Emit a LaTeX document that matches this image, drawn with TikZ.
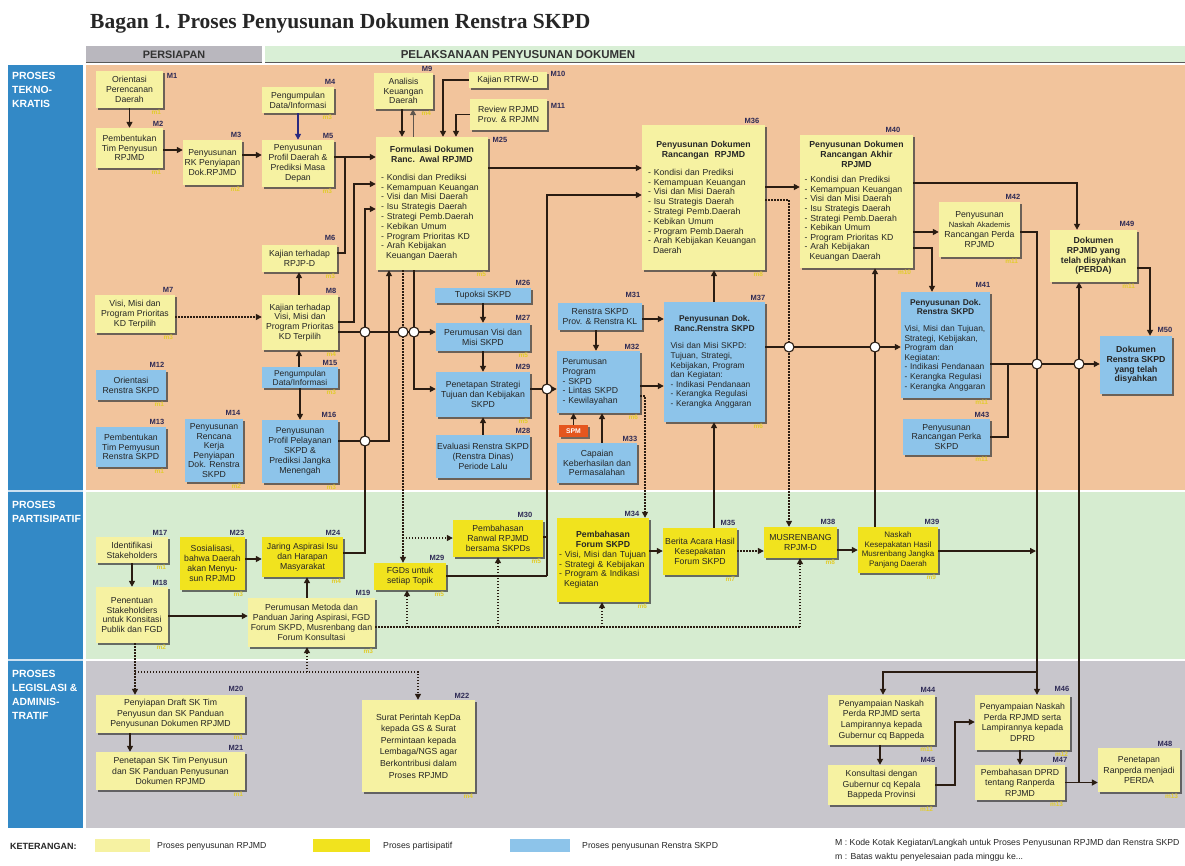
\documentclass[tikz,border=0pt]{standalone}
\usepackage{fontspec}
\setmainfont{Liberation Sans}
\newfontfamily\titlefont{Liberation Serif}
\usetikzlibrary{arrows.meta,fit,shadows}
\definecolor{peach}{HTML}{F2C49C}
\definecolor{pgreen}{HTML}{D6ECD0}
\definecolor{pgray}{HTML}{C8C6CC}
\definecolor{colblue}{HTML}{3389C6}
\definecolor{ypale}{HTML}{F6F2A2}
\definecolor{ybright}{HTML}{F1E31E}
\definecolor{bblue}{HTML}{8DC4EA}
\definecolor{lc}{HTML}{2A1C12}
\definecolor{hgray}{HTML}{B9B7BE}
\definecolor{hgreen}{HTML}{D9EFD6}
\definecolor{mnavy}{HTML}{2E2A55}
\definecolor{mtime}{HTML}{E2CC2C}
\definecolor{spmred}{HTML}{E5561E}
\definecolor{navyarr}{HTML}{2A2A80}
% box: style, name, corner1, corner2, text options, text
\newcommand\bx[6]{%
  \node[#1, fit={(#3) (#4)}] (#2) {};
  \node[btx, #5] (#2t) at (#2.center) {#6};}
\newcommand\tmlab[2]{\node[mtl, anchor=north east, xshift=-2pt, yshift=-1.5pt] (t#1) at (#1.south east) {#2};}
\begin{document}
\begin{tikzpicture}[x=1pt,y=-1pt,
  bxs/.style={rectangle, inner sep=0pt,
    drop shadow={shadow xshift=2.2pt, shadow yshift=-2.2pt, fill=black!75, opacity=0.75}},
  rpj/.style={bxs, fill=ypale},
  ptp/.style={bxs, fill=ybright},
  ren/.style={bxs, fill=bblue},
  btx/.style={inner sep=0pt, align=center, text=black!85, font=\fontsize{8.7}{9.8}\selectfont},
  bft/.style={font=\fontsize{8.7}{9.8}\selectfont\bfseries},
  lgf/.style={font=\fontsize{8.7}{10.6}\selectfont},
  mlab/.style={font=\fontsize{7.5}{7.5}\selectfont\bfseries, text=mnavy, inner sep=0pt},
  mtl/.style={font=\fontsize{6.5}{6.5}\selectfont\bfseries, text=mtime, inner sep=0pt},
  side/.style={font=\fontsize{10.4}{14}\selectfont\bfseries, text=white, align=left, inner sep=0pt, anchor=north west},
  ln/.style={draw=lc, line width=1.6pt},
  arr/.style={ln, -{Triangle[length=6pt,width=6pt]}},
  dt/.style={draw=lc, line width=1.3pt, dash pattern=on 1.4pt off 1.6pt},
  darr/.style={dt, -{Triangle[length=6pt,width=6pt]}},
  hop/.style={circle, draw=lc, fill=white, line width=1.1pt, minimum size=10pt, inner sep=0pt},
  lgt/.style={font=\fontsize{8.7}{8.7}\selectfont, anchor=west, inner sep=0pt, text=black!85}
]
\useasboundingbox (0,0) rectangle (1185,865);
\fill[white] (0,0) rectangle (1185,865);

% title
\node[anchor=base west, font=\titlefont\bfseries\fontsize{21.5}{21.5}\selectfont, text=black!85, inner sep=0pt] (title) at (90,28) {Bagan 1. Proses Penyusunan Dokumen Renstra SKPD};

% header bars
\fill[hgray] (86,46) rectangle (262,62);
\fill[hgreen] (265,46) rectangle (1185,62);
\draw[black!65, line width=1.3pt] (86,62.5) -- (262,62.5);
\draw[black!65, line width=1.3pt] (265,62.5) -- (1185,62.5);
\node[font=\fontsize{10.8}{10.8}\selectfont\bfseries, text=black!80, inner sep=0pt] (hp) at (174,54.5) {PERSIAPAN};
\node[font=\fontsize{11.5}{11.5}\selectfont\bfseries, text=black!80, inner sep=0pt] (hl) at (518,54.5) {PELAKSANAAN PENYUSUNAN DOKUMEN};

% bands
\fill[peach] (86,65) rectangle (1185,490);
\fill[pgreen] (86,492) rectangle (1185,659);
\fill[pgray] (86,661) rectangle (1185,828);
\fill[colblue] (8,65) rectangle (83,828);
\draw[white!75!colblue, line width=1.6pt] (8,491) -- (83,491);
\draw[white!75!colblue, line width=1.6pt] (8,660) -- (83,660);
\node[side] (s1) at (12,72) {PROSES\\TEKNO-\\KRATIS};
\node[side] (s2) at (12,501) {PROSES\\PARTISIPATIF};
\node[side] (s3) at (12,670) {PROSES\\LEGISLASI \&\\ADMINIS-\\TRATIF};

% ---------- Teknokratis boxes ----------
\bx{rpj}{m1}{96,71}{163,108}{}{Orientasi\\Perencanan\\Daerah}
\bx{rpj}{m2}{96,128}{163,168}{}{Pembentukan\\Tim Penyusun\\RPJMD}
\bx{rpj}{m3}{183,140}{242,185}{}{Penyusunan\\RK Penyiapan\\Dok.RPJMD}
\bx{rpj}{m4}{262,87}{334,113}{}{Pengumpulan\\Data/Informasi}
\bx{rpj}{m5}{262,140}{334,187}{}{Penyusunan\\Profil Daerah \&\\Prediksi Masa\\Depan}
\bx{rpj}{m6}{262,245}{337,272}{}{Kajian terhadap\\RPJP-D}
\bx{rpj}{m7}{95,295}{175,333}{}{Visi, Misi dan\\Program Prioritas\\KD Terpilih}
\bx{rpj}{m8}{262,295}{338,350}{}{Kajian terhadap\\Visi, Misi dan\\Program Prioritas\\KD Terpilih}
\bx{rpj}{m9}{374,73}{433,109}{}{Analisis\\Keuangan\\Daerah}
\bx{rpj}{m10}{469,72}{547,88}{}{Kajian RTRW-D}
\bx{rpj}{m11}{470,99}{547,130}{}{Review RPJMD\\Prov. \& RPJMN}
\bx{rpj}{m25}{376,137}{488,270}{text width=102pt, align=left}{{\centering\bfseries Formulasi Dokumen\\Ranc. Awal RPJMD\par}\vspace{8pt}- Kondisi dan Prediksi\\- Kemampuan Keuangan\\- Visi dan Misi Daerah\\- Isu Strategis Daerah\\- Strategi Pemb.Daerah\\- Kebikan Umum\\- Program Prioritas KD\\- Arah Kebijakan\\\hspace*{5pt}Keuangan Daerah}
\bx{rpj}{m36}{642,125}{765,270}{text width=111pt, align=left}{{\centering\bfseries Penyusunan Dokumen\\Rancangan~~RPJMD\par}\vspace{8pt}- Kondisi dan Prediksi\\- Kemampuan Keuangan\\- Visi dan Misi Daerah\\- Isu Strategis Daerah\\- Strategi Pemb.Daerah\\- Kebikan Umum\\- Program Pemb.Daerah\\- Arah Kebijakan Keuangan\\\hspace*{5pt}Daerah}
\bx{rpj}{m40}{800,135}{913,268}{text width=104pt, align=left, font=\fontsize{8.7}{9.6}\selectfont}{{\centering\bfseries Penyusunan Dokumen\\Rancangan Akhir\\RPJMD\par}\vspace{6pt}- Kondisi dan Prediksi\\- Kemampuan Keuangan\\- Visi dan Misi Daerah\\- Isu Strategis Daerah\\- Strategi Pemb.Daerah\\- Kebikan Umum\\- Program Prioritas KD\\- Arah Kebijakan\\\hspace*{5pt}Keuangan Daerah}
\bx{rpj}{m42}{939,202}{1020,257}{}{Penyusunan\\{\fontsize{7.6}{9.8}\selectfont Naskah Akademis}\\Rancangan Perda\\RPJMD}
\bx{rpj}{m49}{1050,230}{1137,282}{bft}{Dokumen\\RPJMD yang\\telah disyahkan\\(PERDA)}

\bx{ren}{m12}{96,370}{166,400}{}{Orientasi\\Renstra SKPD}
\bx{ren}{m13}{96,427}{166,467}{}{Pembentukan\\Tim Pemyusun\\Renstra SKPD}
\bx{ren}{m14}{185,419}{243,482}{font=\fontsize{8.7}{9.6}\selectfont}{Penyusunan\\Rencana\\Kerja\\Penyiapan\\Dok. Renstra\\SKPD}
\bx{ren}{m15}{262,367}{338,388}{font=\fontsize{8.4}{9}\selectfont}{Pengumpulan\\Data/Informasi}
\bx{ren}{m16}{262,420}{338,483}{}{Penyusunan\\Profil Pelayanan\\SKPD \&\\Prediksi Jangka\\Menengah}
\bx{ren}{m26}{435,288}{531,303}{}{Tupoksi SKPD}
\bx{ren}{m27}{436,323}{530,351}{}{Perumusan Visi dan\\Misi SKPD}
\bx{ren}{m29a}{436,372}{530,417}{}{Penetapan Strategi\\Tujuan dan Kebijakan\\SKPD}
\bx{ren}{m28}{436,435}{530,478}{}{Evaluasi Renstra SKPD\\(Renstra Dinas)\\Periode Lalu}
\bx{ren}{m31}{558,303}{642,330}{}{Renstra SKPD\\Prov. \& Renstra KL}
\bx{ren}{m32}{557,351}{640,413}{text width=72pt, align=left}{Perumusan\\Program\\- SKPD\\- Lintas SKPD\\- Kewilayahan}
\node[fill=spmred, fit={(559,425) (588,437)}, inner sep=0pt, drop shadow={shadow xshift=1.5pt, shadow yshift=-1.5pt, fill=black!75, opacity=0.7}] (spm) {};
\node[text=white, font=\fontsize{6.8}{6.8}\selectfont\bfseries, inner sep=0pt] (spmt) at (spm.center) {SPM};
\bx{ren}{m33}{557,443}{637,483}{}{Capaian\\Keberhasilan dan\\Permasalahan}
\bx{ren}{m37}{664,302}{765,422}{text width=88pt, align=left, font=\fontsize{8.4}{9.6}\selectfont}{{\centering\bfseries Penyusunan Dok.\\Ranc.Renstra SKPD\par}\vspace{8pt}Visi dan Misi SKPD:\\Tujuan, Strategi,\\Kebijakan, Program\\dan Kegiatan:\\- Indikasi Pendanaan\\- Kerangka Regulasi\\- Kerangka Anggaran}
\bx{ren}{m41}{901,292}{990,398}{text width=82pt, align=left, font=\fontsize{8.4}{9.6}\selectfont}{{\centering\bfseries Penyusunan Dok.\\Renstra SKPD\par}\vspace{7pt}Visi, Misi dan Tujuan,\\Strategi, Kebijakan,\\Program dan\\Kegiatan:\\- Indikasi Pendanaan\\- Kerangka Regulasi\\- Kerangka Anggaran}
\bx{ren}{m43}{903,419}{990,455}{}{Penyusunan\\Rancangan Perka\\SKPD}
\bx{ren}{m50}{1100,336}{1172,394}{bft}{Dokumen\\Renstra SKPD\\yang telah\\disyahkan}

% ---------- Partisipatif boxes ----------
\bx{rpj}{m17}{96,537}{168,563}{}{Identifikasi\\Stakeholders}
\bx{rpj}{m18}{96,587}{168,643}{}{Penentuan\\Stakeholders\\untuk Konsitasi\\Publik dan FGD}
\bx{ptp}{m23}{180,537}{245,590}{}{Sosialisasi,\\bahwa Daerah\\akan Menyu-\\sun RPJMD}
\bx{ptp}{m24}{262,537}{343,577}{}{Jaring Aspirasi Isu\\dan Harapan\\Masyarakat}
\bx{rpj}{m19}{248,598}{375,647}{}{Perumusan Metoda dan\\Panduan Jaring Aspirasi, FGD\\Forum SKPD, Musrenbang dan\\Forum Konsultasi}
\bx{ptp}{m29b}{374,563}{446,590}{}{FGDs untuk\\setiap Topik}
\bx{ptp}{m30}{453,520}{543,557}{}{Pembahasan\\Ranwal RPJMD\\bersama SKPDs}
\bx{ptp}{m34}{557,518}{649,602}{text width=88pt, align=left}{{\centering\bfseries Pembahasan\\Forum SKPD\par}- Visi, Misi dan Tujuan\\- Strategi \& Kebijakan\\- Program \& Indikasi\\\hspace*{5pt}Kegiatan}
\bx{ptp}{m35}{663,528}{737,575}{}{Berita Acara Hasil\\Kesepakatan\\Forum SKPD}
\bx{ptp}{m38}{764,527}{837,558}{}{MUSRENBANG\\RPJM-D}
\bx{ptp}{m39}{858,527}{938,573}{font=\fontsize{8}{9.4}\selectfont}{Naskah\\Kesepakatan Hasil\\Musrenbang Jangka\\Panjang Daerah}

% ---------- Legislasi boxes ----------
\bx{rpj}{m20}{96,695}{245,733}{lgf}{Penyiapan Draft SK Tim\\Penyusun dan SK Panduan\\Penyusunan Dokumen RPJMD}
\bx{rpj}{m21}{96,752}{245,790}{lgf}{Penetapan SK Tim Penyusun\\dan SK Panduan Penyusunan\\Dokumen RPJMD}
\bx{rpj}{m22}{362,700}{475,792}{font=\fontsize{8.7}{11.6}\selectfont}{Surat Perintah KepDa\\kepada GS \& Surat\\Permintaan kepada\\Lembaga/NGS agar\\Berkontribusi dalam\\Proses RPJMD}
\bx{rpj}{m44}{828,695}{935,745}{lgf}{Penyampaian Naskah\\Perda RPJMD serta\\Lampirannya kepada\\Gubernur cq Bappeda}
\bx{rpj}{m45}{828,765}{935,805}{lgf}{Konsultasi dengan\\Gubernur cq Kepala\\Bappeda Provinsi}
\bx{rpj}{m46}{975,695}{1070,750}{lgf}{Penyampaian Naskah\\Perda RPJMD serta\\Lampirannya kepada\\DPRD}
\bx{rpj}{m47}{975,765}{1065,800}{lgf}{Pembahasan DPRD\\tentang Ranperda\\RPJMD}
\bx{rpj}{m48}{1098,748}{1180,792}{lgf}{Penetapan\\Ranperda menjadi\\PERDA}

% ---------- connectors: teknokratis ----------
\draw[arr] (m1.south) -- (m2.north);
\draw[arr] (m2.east |- 0,150) -- (m3.west |- 0,150);
\draw[arr] (m3.east |- 0,155) -- (m5.west |- 0,155);
\draw[arr, draw=navyarr] (m4.south) -- (m5.north);
\draw[arr] (m5.east |- 0,157) -- (m25.west |- 0,157);
\coordinate (j6) at (345,157);
\draw[ln] (m6.east |- 0,253) -| (j6);
\draw[arr] (m8.north -| 299,0) -- (m6.south -| 299,0);
\draw[darr] (m7.east |- 0,317) -- (m8.west |- 0,317);
\draw[arr] (m8.east |- 0,322) -- (354,322) -- (354,184) -- (m25.west |- 0,184);
\draw[arr] (m8.east |- 0,332) -- (m27.west |- 0,332);
\draw[arr] (m15.north -| 299,0) -- (m8.south -| 299,0);
\draw[arr] (m15.south -| 300,0) -- (m16.north -| 300,0);
\draw[arr] (m16.east |- 0,441) -- (389,441) -- (m25.south -| 389,0);
\draw[arr] (m24.east |- 0,553) -- (365,553) -- (365,209) -- (m25.west |- 0,209);
\draw[arr] (m9.south -| 402,0) -- (m25.north -| 402,0);
\draw[arr, line width=0.9pt, draw=lc!75] (m25.north -| 413,0) -- (m9.south -| 413,0);
\draw[arr] (m10.west) -| (m25.north -| 443,0);
\draw[arr] (m11.west) -| (m25.north -| 456,0);
\draw[arr] (m25.east |- 0,168) -- (m36.west |- 0,168);
\draw[arr] (m25.south -| 414,0) -- (414,389) -- (m29a.west |- 0,389);
\draw[darr] (m25.south -| 403,0) -- (m29b.north -| 403,0);
\draw[darr] (403,538) -- (m30.west |- 0,538);
\draw[arr] (m26.south) -- (m27.north);
\draw[arr] (m27.south) -- (m29a.north);
\draw[arr] (m28.north) -- (m29a.south);
\draw[arr] (m29a.east |- 0,389) -- (m32.west |- 0,389);
\draw[ln] (m30.east |- 0,537) -- (547,537);
\draw[ln] (m29b.east |- 0,576) -- (547,576);
\draw[arr] (547,576) -- (547,195) -- (m36.west |- 0,195);
\draw[arr] (m31.east |- 0,319) -- (m37.west |- 0,319);
\draw[arr] (m31.south -| 596,0) -- (m32.north -| 596,0);
\draw[arr] (m32.east |- 0,386) -- (m37.west |- 0,386);
\draw[darr] (m32.east |- 0,396) -- (645,396) -- (m34.north -| 645,0);
\draw[arr] (spm.north) -- (m32.south -| spm.north);
\draw[arr] (m33.north -| 602,0) -- (m32.south -| 602,0);
\draw[arr] (m37.north -| 714,0) -- (m36.south -| 714,0);
\draw[arr] (m35.north -| 714,0) -- (m37.south -| 714,0);
\draw[arr] (m36.east |- 0,187) -- (m40.west |- 0,187);
\draw[darr] (m36.east |- 0,200) -- (789,200) -- (m38.north -| 789,0);
\draw[arr] (m37.east |- 0,347) -- (m41.west |- 0,347);
\draw[arr] (m39.north -| 875,0) -- (m40.south -| 875,0);
\draw[arr] (m40.east |- 0,183) -- (1077,183) -- (m49.north -| 1077,0);
\draw[arr] (m40.east |- 0,232) -- (m42.west |- 0,232);
\draw[arr] (m40.east |- 0,248) -- (932,248) -- (m41.north -| 932,0);
\draw[arr] (m42.east |- 0,232) -- (1037,232) -- (m46.north -| 1037,0);
\draw[arr] (1037,672) -- (883,672) -- (m44.north -| 883,0);
\coordinate (j39) at (1036,551);
\draw[arr] (m39.east |- 0,551) -- (j39);
\draw[arr] (m41.east |- 0,364) -- (m50.west |- 0,364);
\draw[ln] (m43.east |- 0,437) -- (1008,437) -- (1008,364);
\draw[arr] (m49.east |- 0,268) -- (1150,268) -- (m50.north -| 1150,0);
\draw[arr] (m47.east) -- (m48.west |- m47.east);
\draw[arr] (1079,782) -- (m49.south -| 1079,0);

% ---------- connectors: partisipatif ----------
\draw[arr] (m17.south) -- (m18.north);
\draw[arr] (m18.east |- 0,616) -- (m19.west |- 0,616);
\draw[arr] (m23.east |- 0,559) -- (m24.west |- 0,559);
\draw[arr] (m19.north -| 307,0) -- (m24.south -| 307,0);
\draw[dt] (m19.east |- 0,627) -- (800,627);
\draw[darr] (407,627) -- (m29b.south -| 407,0);
\draw[darr] (498,627) -- (m30.south -| 498,0);
\draw[darr] (602,627) -- (m34.south -| 602,0);
\draw[darr] (800,627) -- (m38.south -| 800,0);
\draw[arr] (m34.east |- 0,551) -- (m35.west |- 0,551);
\draw[darr] (m35.east |- 0,551) -- (m38.west |- 0,551);
\draw[arr] (m38.east |- 0,550) -- (m39.west |- 0,550);

% ---------- connectors: legislasi ----------
\draw[darr] (m18.south -| 135,0) -- (m20.north -| 135,0);
\draw[darr] (135,672) -- (418,672) -- (m22.north -| 418,0);
\draw[darr] (307,672) -- (m19.south -| 307,0);
\draw[arr] (m20.south -| 130,0) -- (m21.north -| 130,0);
\draw[arr] (m44.south -| 880,0) -- (m45.north -| 880,0);
\draw[arr] (m45.east |- 0,785) -- (955,785) -- (955,722) -- (m46.west |- 0,722);
\draw[arr] (m46.south -| 1020,0) -- (m47.north -| 1020,0);

% crossing marks
\node[hop] (h1) at (365,332) {};
\node[hop] (h2) at (403,332) {};
\node[hop] (h3) at (414,332) {};
\node[hop] (h4) at (365,441) {};
\node[hop] (h5) at (547,389) {};
\node[hop] (h6) at (789,347) {};
\node[hop] (h7) at (875,347) {};
\node[hop] (h8) at (1037,364) {};
\node[hop] (h9) at (1079,364) {};

% M labels
\foreach \nm/\px/\py in {M1/172/76, M2/158/124, M3/236/135, M4/330/82, M5/328/136, M6/330/238, M7/168/290, M8/331/291, M9/427/69, M10/558/74, M11/558/106, M25/500/140, M36/752/121, M40/893/130, M42/1013/197, M49/1127/224, M12/157/365, M13/157/422, M14/233/413, M15/330/363, M16/329/415, M26/523/283, M27/523/318, M28/523/431, M31/633/295, M32/632/347, M33/630/439, M37/758/298, M41/983/285, M43/982/415, M50/1165/330, M17/160/533, M18/160/583, M23/237/533, M24/333/533, M19/363/593, M30/525/515, M34/632/514, M35/728/523, M38/828/522, M39/932/522, M20/236/689, M21/236/748, M22/462/696, M44/928/690, M45/928/760, M46/1062/689, M47/1060/760, M48/1165/744}
  \node[mlab] (l\nm) at (\px,\py) {\nm};
\node[mlab] (lM29a) at (523,367) {M29};
\node[mlab] (lM29b) at (437,558) {M29};

% time labels
\tmlab{m1}{m1}\tmlab{m2}{m1}\tmlab{m3}{m2}\tmlab{m4}{m3}\tmlab{m5}{m3}\tmlab{m6}{m3}
\tmlab{m7}{m3}\tmlab{m8}{m4}\tmlab{m9}{m4}\tmlab{m25}{m5}\tmlab{m36}{m8}\tmlab{m40}{m10}
\tmlab{m42}{m11}\tmlab{m49}{m11}\tmlab{m12}{m1}\tmlab{m13}{m1}\tmlab{m14}{m2}\tmlab{m15}{m3}
\tmlab{m16}{m3}\tmlab{m27}{m5}\tmlab{m29a}{m5}\tmlab{m32}{m6}\tmlab{m37}{m6}\tmlab{m41}{m11}
\tmlab{m43}{m11}\tmlab{m17}{m1}\tmlab{m18}{m2}\tmlab{m23}{m3}\tmlab{m24}{m4}\tmlab{m19}{m3}
\tmlab{m29b}{m5}\tmlab{m30}{m5}\tmlab{m34}{m6}\tmlab{m35}{m7}\tmlab{m38}{m8}\tmlab{m39}{m9}
\tmlab{m20}{m1}\tmlab{m21}{m1}\tmlab{m22}{m4}\tmlab{m44}{m11}\tmlab{m45}{m12}\tmlab{m46}{m12}
\tmlab{m47}{m13}\tmlab{m48}{m13}

% legend
\node[lgt, font=\fontsize{9}{9}\selectfont\bfseries] (ket) at (10,846) {KETERANGAN:};
\node[fill=ypale, fit={(95,839) (150,852)}, inner sep=0pt] (lg1) {};
\node[lgt] (lt1) at (157,846) {Proses penyusunan RPJMD};
\node[fill=ybright, fit={(313,839) (370,852)}, inner sep=0pt] (lg2) {};
\node[lgt] (lt2) at (383,846) {Proses partisipatif};
\node[fill=bblue, fit={(510,839) (570,852)}, inner sep=0pt] (lg3) {};
\node[lgt] (lt3) at (582,846) {Proses penyusunan Renstra SKPD};
\node[lgt] (lt4) at (835,843) {M : Kode Kotak Kegiatan/Langkah untuk Proses Penyusunan RPJMD dan Renstra SKPD};
\node[lgt] (lt5) at (835,857) {m : Batas waktu penyelesaian pada minggu ke...};
\end{tikzpicture}
\end{document}
